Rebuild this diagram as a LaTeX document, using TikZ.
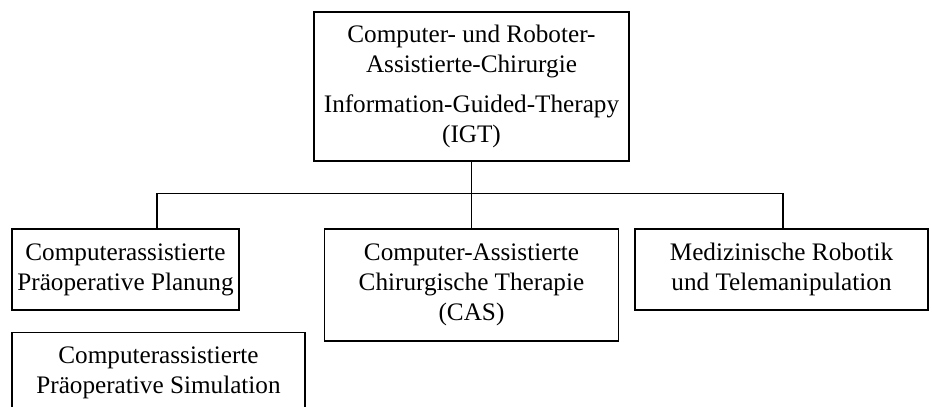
\documentclass[tikz,border=0pt]{standalone}
\usepackage{fontspec}
\setmainfont{Liberation Serif}
\usepackage{tikz}
\usetikzlibrary{positioning, calc}

\begin{document}
\begin{tikzpicture}[
    box/.style={draw, line width=0.6pt, align=center, inner sep=2pt,
        font=\fontsize{12.6}{15}\selectfont},
    link/.style={line width=0.6pt}
]
\useasboundingbox (0,0) rectangle (466pt,-203.5pt);

% root
\node[box, minimum width=157.5pt, minimum height=74.5pt] (igt) at (235.75pt,-43.25pt) {%
Computer- und Roboter-\\
Assistierte-Chirurgie\\[5pt]
Information-Guided-Therapy\\
(IGT)
};

% second level
\node[box, minimum width=113.5pt, minimum height=40.5pt] (planung) at (62.75pt,-134.75pt) {%
Computerassistierte\\
Präoperative Planung
};
\node[box, minimum width=147pt, minimum height=56pt] (cas) at (235.75pt,-142.5pt) {%
Computer-Assistierte\\
Chirurgische Therapie\\
(CAS)
};
\node[box, minimum width=146.5pt, minimum height=40.5pt] (robotik) at (390.75pt,-134.75pt) {%
Medizinische Robotik\\
und Telemanipulation
};
\node[box, minimum width=146.5pt, minimum height=40.5pt, anchor=north west]
    (simulation) at ([yshift=-10.5pt]planung.south west) {%
Computerassistierte\\
Präoperative Simulation
};

% connectors
\coordinate (split) at ($(igt.south)+(0,-16pt)$);
\draw[link] (igt.south) -- (split);
\draw[link] (split) -| ([xshift=15.75pt]planung.north);
\draw[link] (split) -- (cas.north);
\draw[link] (split) -| ([xshift=0.75pt]robotik.north);

\end{tikzpicture}
\end{document}
